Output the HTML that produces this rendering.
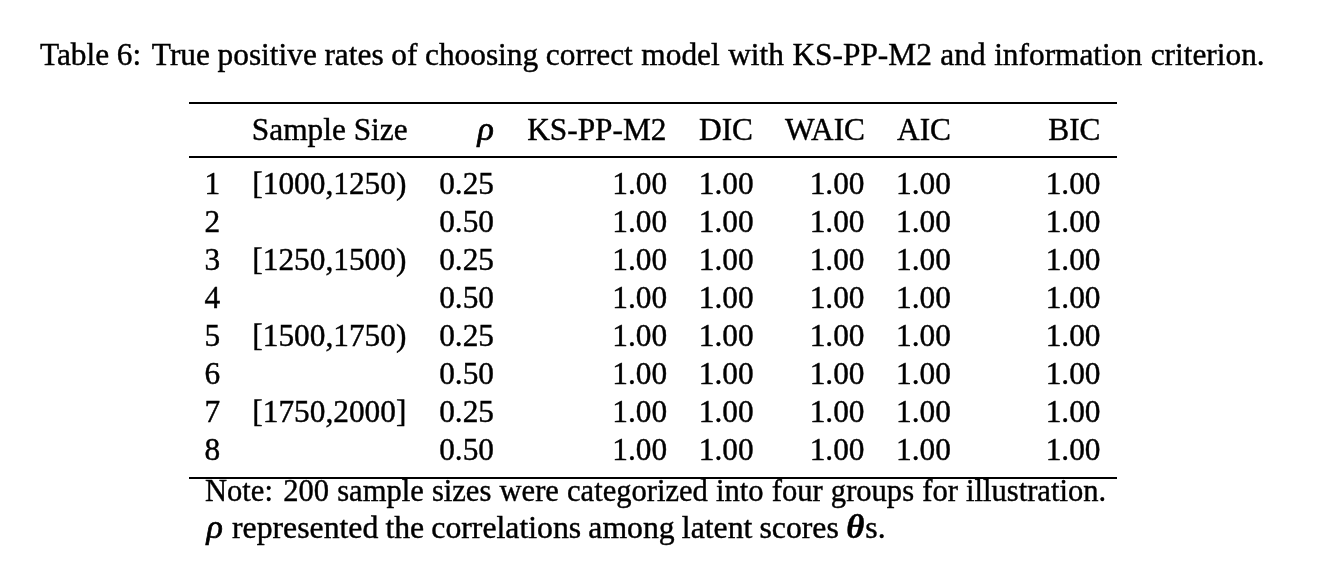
<!DOCTYPE html>
<html><head><meta charset="utf-8"><title>Table 6</title>
<style>
html,body{margin:0;padding:0;background:#fff;}
body{width:1344px;height:572px;position:relative;overflow:hidden;font-family:"Liberation Serif",serif;font-size:31.35px;color:#000;}
#p{position:absolute;left:0;top:0;width:1344px;height:572px;will-change:transform;background:#fff;}
.t{position:absolute;line-height:1;white-space:nowrap;-webkit-text-stroke:0.42px #000;}
.rho{font-size:1.09em;line-height:0;}
.r{position:absolute;background:#000;}
</style></head><body><div id="p">
<div class="r" style="left:189.10px;top:101.80px;width:927.70px;height:2.50px"></div>
<div class="r" style="left:189.10px;top:156.40px;width:927.70px;height:1.80px"></div>
<div class="r" style="left:189.10px;top:476.70px;width:927.70px;height:2.20px"></div>
<div class="t" style="left:40.00px;top:38.94px;"><span style="word-spacing:-0.2px">Table 6:<span style="display:inline-block;width:0.34em"></span>True positive rates of choosing </span><span style="word-spacing:0.7px">correct model with KS-PP-M2 and information criterion.</span></div>
<div class="t" style="left:251.80px;top:113.74px;transform:scaleY(1.015);transform-origin:0 83.75%;">Sample Size</div>
<div class="t" style="right:850.20px;top:113.74px;-webkit-text-stroke:0.7px #000;"><i class="rho">&rho;</i></div>
<div class="t" style="right:677.50px;top:113.74px;transform:scaleY(1.015);transform-origin:0 83.75%;">KS-PP-M2</div>
<div class="t" style="left:699.00px;top:113.74px;transform:scaleY(1.015);transform-origin:0 83.75%;">DIC</div>
<div class="t" style="right:479.00px;top:113.74px;transform:scaleY(1.015);transform-origin:0 83.75%;">WAIC</div>
<div class="t" style="left:897.00px;top:113.74px;transform:scaleY(1.015);transform-origin:0 83.75%;">AIC</div>
<div class="t" style="right:243.50px;top:113.74px;transform:scaleY(1.015);transform-origin:0 83.75%;">BIC</div>
<div class="t" style="left:204.50px;top:167.74px;transform:scaleY(1.015);transform-origin:0 83.75%;">1</div>
<div class="t" style="left:252.30px;top:167.74px;transform:scaleY(1.015);transform-origin:0 83.75%;">[1000,1250)</div>
<div class="t" style="right:850.00px;top:167.74px;transform:scaleY(1.015);transform-origin:0 83.75%;">0.25</div>
<div class="t" style="right:676.80px;top:167.74px;transform:scaleY(1.015);transform-origin:0 83.75%;">1.00</div>
<div class="t" style="left:698.80px;top:167.74px;transform:scaleY(1.015);transform-origin:0 83.75%;">1.00</div>
<div class="t" style="right:479.50px;top:167.74px;transform:scaleY(1.015);transform-origin:0 83.75%;">1.00</div>
<div class="t" style="left:896.00px;top:167.74px;transform:scaleY(1.015);transform-origin:0 83.75%;">1.00</div>
<div class="t" style="right:243.50px;top:167.74px;transform:scaleY(1.015);transform-origin:0 83.75%;">1.00</div>
<div class="t" style="left:204.50px;top:205.77px;transform:scaleY(1.015);transform-origin:0 83.75%;">2</div>
<div class="t" style="right:850.00px;top:205.77px;transform:scaleY(1.015);transform-origin:0 83.75%;">0.50</div>
<div class="t" style="right:676.80px;top:205.77px;transform:scaleY(1.015);transform-origin:0 83.75%;">1.00</div>
<div class="t" style="left:698.80px;top:205.77px;transform:scaleY(1.015);transform-origin:0 83.75%;">1.00</div>
<div class="t" style="right:479.50px;top:205.77px;transform:scaleY(1.015);transform-origin:0 83.75%;">1.00</div>
<div class="t" style="left:896.00px;top:205.77px;transform:scaleY(1.015);transform-origin:0 83.75%;">1.00</div>
<div class="t" style="right:243.50px;top:205.77px;transform:scaleY(1.015);transform-origin:0 83.75%;">1.00</div>
<div class="t" style="left:204.50px;top:243.80px;transform:scaleY(1.015);transform-origin:0 83.75%;">3</div>
<div class="t" style="left:252.30px;top:243.80px;transform:scaleY(1.015);transform-origin:0 83.75%;">[1250,1500)</div>
<div class="t" style="right:850.00px;top:243.80px;transform:scaleY(1.015);transform-origin:0 83.75%;">0.25</div>
<div class="t" style="right:676.80px;top:243.80px;transform:scaleY(1.015);transform-origin:0 83.75%;">1.00</div>
<div class="t" style="left:698.80px;top:243.80px;transform:scaleY(1.015);transform-origin:0 83.75%;">1.00</div>
<div class="t" style="right:479.50px;top:243.80px;transform:scaleY(1.015);transform-origin:0 83.75%;">1.00</div>
<div class="t" style="left:896.00px;top:243.80px;transform:scaleY(1.015);transform-origin:0 83.75%;">1.00</div>
<div class="t" style="right:243.50px;top:243.80px;transform:scaleY(1.015);transform-origin:0 83.75%;">1.00</div>
<div class="t" style="left:204.50px;top:281.83px;transform:scaleY(1.015);transform-origin:0 83.75%;">4</div>
<div class="t" style="right:850.00px;top:281.83px;transform:scaleY(1.015);transform-origin:0 83.75%;">0.50</div>
<div class="t" style="right:676.80px;top:281.83px;transform:scaleY(1.015);transform-origin:0 83.75%;">1.00</div>
<div class="t" style="left:698.80px;top:281.83px;transform:scaleY(1.015);transform-origin:0 83.75%;">1.00</div>
<div class="t" style="right:479.50px;top:281.83px;transform:scaleY(1.015);transform-origin:0 83.75%;">1.00</div>
<div class="t" style="left:896.00px;top:281.83px;transform:scaleY(1.015);transform-origin:0 83.75%;">1.00</div>
<div class="t" style="right:243.50px;top:281.83px;transform:scaleY(1.015);transform-origin:0 83.75%;">1.00</div>
<div class="t" style="left:204.50px;top:319.86px;transform:scaleY(1.015);transform-origin:0 83.75%;">5</div>
<div class="t" style="left:252.30px;top:319.86px;transform:scaleY(1.015);transform-origin:0 83.75%;">[1500,1750)</div>
<div class="t" style="right:850.00px;top:319.86px;transform:scaleY(1.015);transform-origin:0 83.75%;">0.25</div>
<div class="t" style="right:676.80px;top:319.86px;transform:scaleY(1.015);transform-origin:0 83.75%;">1.00</div>
<div class="t" style="left:698.80px;top:319.86px;transform:scaleY(1.015);transform-origin:0 83.75%;">1.00</div>
<div class="t" style="right:479.50px;top:319.86px;transform:scaleY(1.015);transform-origin:0 83.75%;">1.00</div>
<div class="t" style="left:896.00px;top:319.86px;transform:scaleY(1.015);transform-origin:0 83.75%;">1.00</div>
<div class="t" style="right:243.50px;top:319.86px;transform:scaleY(1.015);transform-origin:0 83.75%;">1.00</div>
<div class="t" style="left:204.50px;top:357.89px;transform:scaleY(1.015);transform-origin:0 83.75%;">6</div>
<div class="t" style="right:850.00px;top:357.89px;transform:scaleY(1.015);transform-origin:0 83.75%;">0.50</div>
<div class="t" style="right:676.80px;top:357.89px;transform:scaleY(1.015);transform-origin:0 83.75%;">1.00</div>
<div class="t" style="left:698.80px;top:357.89px;transform:scaleY(1.015);transform-origin:0 83.75%;">1.00</div>
<div class="t" style="right:479.50px;top:357.89px;transform:scaleY(1.015);transform-origin:0 83.75%;">1.00</div>
<div class="t" style="left:896.00px;top:357.89px;transform:scaleY(1.015);transform-origin:0 83.75%;">1.00</div>
<div class="t" style="right:243.50px;top:357.89px;transform:scaleY(1.015);transform-origin:0 83.75%;">1.00</div>
<div class="t" style="left:204.50px;top:395.92px;transform:scaleY(1.015);transform-origin:0 83.75%;">7</div>
<div class="t" style="left:252.30px;top:395.92px;transform:scaleY(1.015);transform-origin:0 83.75%;">[1750,2000]</div>
<div class="t" style="right:850.00px;top:395.92px;transform:scaleY(1.015);transform-origin:0 83.75%;">0.25</div>
<div class="t" style="right:676.80px;top:395.92px;transform:scaleY(1.015);transform-origin:0 83.75%;">1.00</div>
<div class="t" style="left:698.80px;top:395.92px;transform:scaleY(1.015);transform-origin:0 83.75%;">1.00</div>
<div class="t" style="right:479.50px;top:395.92px;transform:scaleY(1.015);transform-origin:0 83.75%;">1.00</div>
<div class="t" style="left:896.00px;top:395.92px;transform:scaleY(1.015);transform-origin:0 83.75%;">1.00</div>
<div class="t" style="right:243.50px;top:395.92px;transform:scaleY(1.015);transform-origin:0 83.75%;">1.00</div>
<div class="t" style="left:204.50px;top:433.95px;transform:scaleY(1.015);transform-origin:0 83.75%;">8</div>
<div class="t" style="right:850.00px;top:433.95px;transform:scaleY(1.015);transform-origin:0 83.75%;">0.50</div>
<div class="t" style="right:676.80px;top:433.95px;transform:scaleY(1.015);transform-origin:0 83.75%;">1.00</div>
<div class="t" style="left:698.80px;top:433.95px;transform:scaleY(1.015);transform-origin:0 83.75%;">1.00</div>
<div class="t" style="right:479.50px;top:433.95px;transform:scaleY(1.015);transform-origin:0 83.75%;">1.00</div>
<div class="t" style="left:896.00px;top:433.95px;transform:scaleY(1.015);transform-origin:0 83.75%;">1.00</div>
<div class="t" style="right:243.50px;top:433.95px;transform:scaleY(1.015);transform-origin:0 83.75%;">1.00</div>
<div class="t" style="left:204.60px;top:475.14px;word-spacing:0.55px;transform-origin:0 0;transform:scaleX(0.975);">Note:<span style="display:inline-block;width:2.15px"></span> 200 sample sizes were categorized into four groups for illustration.</div>
<div class="t" style="left:206.60px;top:512.44px;-webkit-text-stroke:0.7px #000;"><i class="rho">&rho;</i></div>
<div class="t" style="left:232.30px;top:512.44px;word-spacing:-0.8px;transform-origin:0 0;transform:scaleX(1.0128);">represented the correlations among latent scores <b><i style="font-size:1.1em;line-height:0;margin:0 0.9px 0 0.4px">&theta;</i></b>s.</div>
</div></body></html>
